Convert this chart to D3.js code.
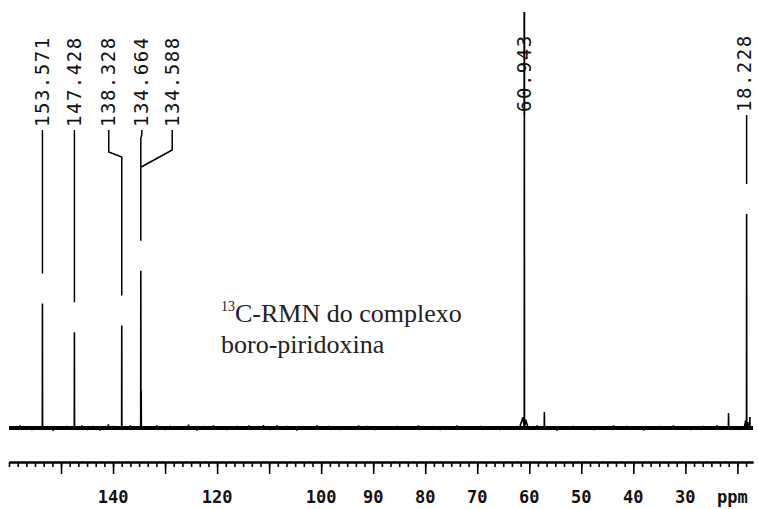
<!DOCTYPE html>
<html>
<head>
<meta charset="utf-8">
<script src="https://cdn.jsdelivr.net/npm/d3@7"></script>
<style>
  html, body { margin: 0; padding: 0; background: #fff; }
  svg { display: block; }
</style>
</head>
<body>
<svg id="chart" width="758" height="509"></svg>
<script>
// ---------------- data ----------------
const ppmDomain = [160, 17];

const peakPpm    = [153.571, 147.428, 138.328, 134.664, 134.588, 60.943, 18.228];
const peakLabels = ["153.571", "147.428", "138.328", "134.664", "134.588", "60.943", "18.228"];
const peakHeight = [29.8, 22.9, 24.5, 37.6, 9.0, 99.5, 51.2];   // % of full scale

const minorPeakPpm    = [57.1, 21.7, 17.6];
const minorPeakHeight = [3.8, 3.6, 2.6];

// broadening at base of the strong signals
const shoulderPpm    = [61.9, 61.2, 60.7, 60.2, 18.7, 18.4, 18.0, 17.8];
const shoulderHeight = [0,    2.6,  2.0,  0,    0,    1.8,  1.4,  0];

// baseline noise spikes (ppm, intensity %)
const noisePpm = [157.9, 155.6, 151.5, 148.9, 146.0, 144.9, 143.8, 142.5, 140.9, 139.9,
                  136.7, 131.6, 130.0, 129.0, 125.5, 123.9, 122.6, 120.7, 118.1, 116.2,
                  113.9, 111.1, 109.8, 108.5, 106.6, 104.7, 100.8, 98.6, 96.3, 92.8,
                  91.2, 89.6, 85.4, 81.3, 77.1, 73.9, 69.4, 65.6, 58.5, 54.7,
                  51.5, 47.6, 43.8, 41.2, 38.0, 34.8, 32.3, 29.0, 26.5, 23.9];
const noiseAmp = [0.6, -0.5, -0.7, 0.5, 0.6, -0.5, 0.5, -0.6, 0.9, 0.5,
                  0.6, 0.6, -0.5, 0.5, 0.8, -0.6, 0.5, 0.6, -0.5, 0.5,
                  0.6, 0.7, -0.5, 0.6, 0.5, -0.6, 0.6, 0.5, -0.5, 0.6,
                  0.5, -0.5, 0.5, 0.6, -0.5, 0.6, 0.5, -0.5, 0.6, -0.6,
                  0.5, -0.5, 0.6, 0.5, -0.6, 0.5, 0.6, -0.5, 0.5, 0.6];

const axisLabelValues = [140, 120, 100, 90, 80, 70, 60, 50, 40, 30];
const axisUnitLabel = "ppm";
const annotationSup = "13";
const annotationLine1 = "C-RMN do complexo";
const annotationLine2 = "boro-piridoxina";

// ---------------- layout ----------------
const labelShift  = [0, 0, -13, 1, 31, 0, 0];      // leader x offset from peak (px)
const textNudge   = [0, 0, 0, 0, 0, 0, -2];        // extra text x offset (px)
const labelBottom = [127, 127, 127, 127, 127, 112, 112];

const svg = d3.select("#chart");
const x = d3.scaleLinear().domain(ppmDomain).range([9, 753]);
const y = d3.scaleLinear().domain([0, 100]).range([428, 10]);

// ---------------- spectrum trace ----------------
const pts = [];
pts.push([ppmDomain[0], 0], [ppmDomain[1], 0]);
noisePpm.forEach((p, i) => { pts.push([p + 0.1, 0], [p, noiseAmp[i]], [p - 0.1, 0]); });
peakPpm.forEach((p, i) => { pts.push([p + 0.025, 0], [p, peakHeight[i]], [p - 0.025, 0]); });
minorPeakPpm.forEach((p, i) => { pts.push([p + 0.03, 0], [p, minorPeakHeight[i]], [p - 0.03, 0]); });
shoulderPpm.forEach((p, i) => pts.push([p, shoulderHeight[i]]));
pts.sort((a, b) => b[0] - a[0]);

// thick baseline band
svg.append("line")
  .attr("x1", x(ppmDomain[0])).attr("x2", x(ppmDomain[1]))
  .attr("y1", y(0)).attr("y2", y(0))
  .attr("stroke", "#000").attr("stroke-width", 3.8);

svg.append("path")
  .datum(pts)
  .attr("fill", "none")
  .attr("stroke", "#000")
  .attr("stroke-width", 1.6)
  .attr("d", d3.line().x(d => x(d[0])).y(d => y(d[1])));

// ---------------- peak labels with leaders ----------------
peakPpm.forEach((p, i) => {
  const px = x(p);
  const lx = px + labelShift[i];
  const top = labelBottom[i] + 3;
  const end = Math.min(y(peakHeight[i]) - 30, 400);
  let d;
  if (i === 4) {
    d = `M${lx},${top}L${lx},${150}L${px},${167}`;
  } else if (Math.abs(lx - px) > 2.5) {
    d = `M${lx},${top}L${lx},${152}L${px},${157}L${px},${end}`;
  } else {
    d = `M${lx},${top}L${lx},${top + 5}L${px},${top + 8}L${px},${end}`;
  }
  if (peakHeight[i] > 95) d = `M${px},${top}L${px},${y(peakHeight[i])}`;
  svg.append("path").attr("d", d).attr("fill", "none")
    .attr("stroke", "#000").attr("stroke-width", 1.5);

  svg.append("text")
    .attr("transform", `translate(${lx + 6.5 + textNudge[i]},${labelBottom[i]}) rotate(-90)`)
    .attr("font-family", "'DejaVu Sans Mono', 'Liberation Mono', monospace")
    .attr("font-size", 19)
    .attr("letter-spacing", 1.5)
    .attr("fill", "#111")
    .text(peakLabels[i]);
});

// ---------------- axis ----------------
const axisY = 462;
const majorTicks = d3.range(20, 151, 10);
const minorTicks = d3.range(0, 90).map(k => 20 + k * 10 / 6 - 10 / 6)
  .filter(v => v <= ppmDomain[0] && v >= ppmDomain[1]);

const gMinor = svg.append("g").attr("transform", `translate(0,${axisY})`)
  .call(d3.axisBottom(x).tickValues(minorTicks).tickSize(5).tickFormat("").tickSizeOuter(0));
const gMajor = svg.append("g").attr("transform", `translate(0,${axisY})`)
  .call(d3.axisBottom(x).tickValues(majorTicks).tickSize(12).tickFormat("").tickSizeOuter(0));
[gMinor, gMajor].forEach(g => {
  g.selectAll("path.domain").attr("stroke", "#000").attr("stroke-width", 2);
  g.selectAll(".tick line").attr("stroke", "#000").attr("stroke-width", 1.6);
});

svg.append("g").selectAll("text").data(axisLabelValues).join("text")
  .attr("x", d => x(d)).attr("y", 503)
  .attr("text-anchor", "middle")
  .attr("font-family", "'DejaVu Sans Mono', 'Liberation Mono', monospace")
  .attr("font-size", 17)
  .attr("font-weight", "bold")
  .attr("fill", "#111")
  .text(d => d);

svg.append("text")
  .attr("x", x(20) - 5).attr("y", 503)
  .attr("text-anchor", "middle")
  .attr("font-family", "'DejaVu Sans Mono', 'Liberation Mono', monospace")
  .attr("font-size", 17)
  .attr("font-weight", "bold")
  .attr("fill", "#111")
  .text(axisUnitLabel);

// ---------------- annotation ----------------
const ann = svg.append("text")
  .attr("x", 221).attr("y", 322)
  .attr("font-family", "'Liberation Serif', 'Times New Roman', serif")
  .attr("font-size", 26)
  .attr("fill", "#222");
ann.append("tspan").attr("font-size", 14).attr("dy", -11).text(annotationSup);
ann.append("tspan").attr("dy", 11).text(annotationLine1);
svg.append("text")
  .attr("x", 221).attr("y", 353)
  .attr("font-family", "'Liberation Serif', 'Times New Roman', serif")
  .attr("font-size", 26)
  .attr("fill", "#222")
  .text(annotationLine2);
</script>
</body>
</html>
